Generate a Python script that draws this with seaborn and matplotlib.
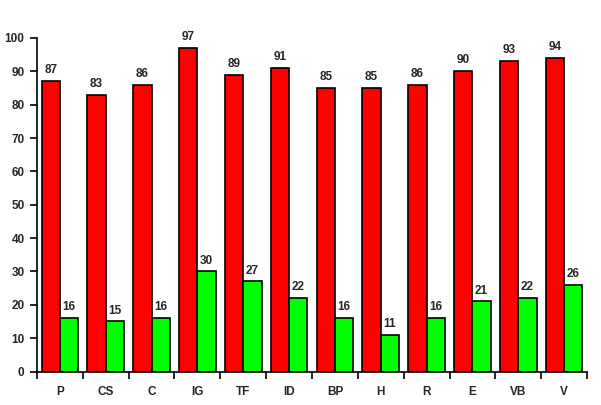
import matplotlib
matplotlib.use("Agg")
import matplotlib.pyplot as plt
import seaborn as sns
import pandas as pd
import numpy as np

categories = ["P", "CS", "C", "IG", "TF", "ID", "BP", "H", "R", "E", "VB", "V"]
red_values = [87, 83, 86, 97, 89, 91, 85, 85, 86, 90, 93, 94]
green_values = [16, 15, 16, 30, 27, 22, 16, 11, 16, 21, 22, 26]
series_names = ["A", "B"]

df = pd.DataFrame({
    "cat": categories * 2,
    "series": [series_names[0]] * len(categories) + [series_names[1]] * len(categories),
    "value": red_values + green_values,
})

sns.set_style("white")
plt.rcParams["font.family"] = ["Liberation Sans", "DejaVu Sans"]

fig = plt.figure(figsize=(6.01, 4.05), dpi=100)
ax = fig.add_axes([37 / 601, 33.5 / 405, 550 / 601, 333.5 / 405])

sns.barplot(data=df, x="cat", y="value", hue="series", order=categories,
            palette=["#ff0000", "#00ff00"], edgecolor="black", linewidth=1.2,
            width=0.8, saturation=1, legend=False, ax=ax)

for cont in ax.containers:
    ax.bar_label(cont, padding=3.5, fontsize=8.5, fontweight="bold")

ax.set_xlim(-0.5, len(categories) - 0.5)
ax.set_ylim(0, 100)
ax.set_yticks(np.arange(0, 101, 10))
ax.set_xticks(np.arange(-0.5, len(categories), 1.0))
ax.set_xticklabels([])
ax.set_xticks(np.arange(len(categories)), minor=True)
ax.set_xticklabels(categories, minor=True)
ax.tick_params(axis="x", which="major", direction="out", length=5, width=1.2, color="black", bottom=True)
ax.tick_params(axis="x", which="minor", length=0, pad=10.5, labelsize=8.5)
ax.tick_params(axis="y", direction="out", length=5, width=1.2, color="black", left=True, labelsize=8.5, pad=4)
for lbl in ax.get_xticklabels(minor=True) + ax.get_yticklabels():
    lbl.set_fontweight("bold")
ax.set_xlabel("")
ax.set_ylabel("")
ax.grid(False)
for s in ["top", "right"]:
    ax.spines[s].set_visible(False)
for s in ["left", "bottom"]:
    ax.spines[s].set_color("black")
    ax.spines[s].set_linewidth(1.2)

fig.savefig("out.png", dpi=100)
